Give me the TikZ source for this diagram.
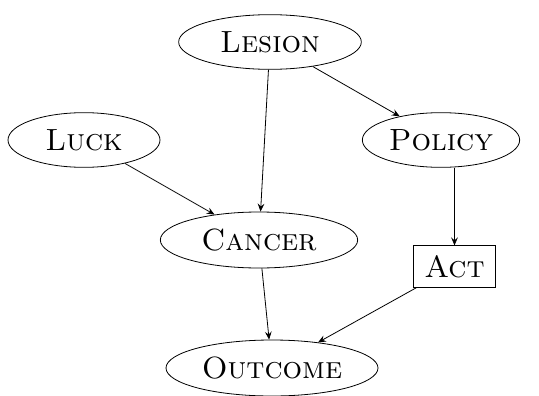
\documentclass[tikz,border=0pt]{standalone}
\usetikzlibrary{shapes.geometric,arrows.meta}
\begin{document}
\begin{tikzpicture}[x=0.75pt,y=-0.75pt,
  every node/.style={font=\fontsize{23}{27}\selectfont\scshape},
  var/.style={draw,ellipse,line width=0.6pt,inner sep=0pt},
  act/.style={draw,rectangle,line width=0.6pt,inner sep=0pt,minimum width=62pt,minimum height=31pt},
  edge/.style={-{Stealth[length=6pt,width=5pt,inset=2.2pt]},line width=0.6pt}]
\useasboundingbox (0,0) rectangle (539,396);
\node[var,minimum width=137pt,minimum height=41pt] (lesion) at (270,42) {Lesion};
\node[var,minimum width=114pt,minimum height=41pt] (luck) at (84,140) {Luck};
\node[var,minimum width=118pt,minimum height=41pt] (policy) at (441,140) {Policy};
\node[var,minimum width=148pt,minimum height=42pt] (cancer) at (259,240) {Cancer};
\node[act] (act) at (454.5,266.5) {Act};
\node[var,minimum width=159pt,minimum height=42pt] (outcome) at (272,368) {Outcome};
\draw[edge] (lesion) -- (cancer);
\draw[edge] (lesion) -- (policy);
\draw[edge] (luck) -- (cancer);
\draw[edge] (policy.south -| act.north) -- (act.north);
\draw[edge] (cancer) -- (outcome);
\draw[edge] (act) -- (outcome);
\end{tikzpicture}
\end{document}
